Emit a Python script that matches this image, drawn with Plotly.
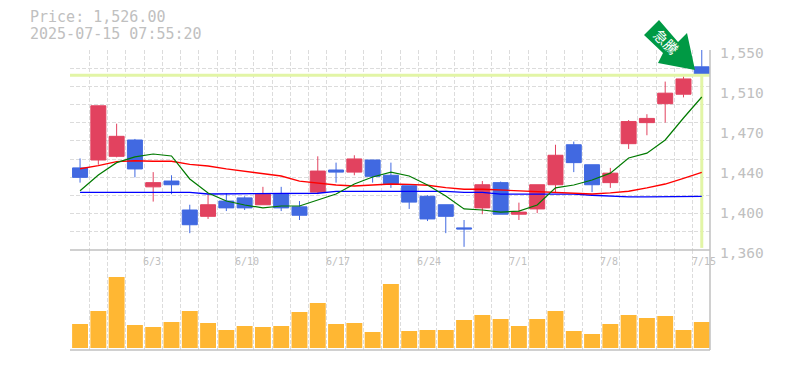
import plotly.graph_objects as go

dates = ["5/28","5/29","5/30","6/2","6/3","6/4","6/5","6/6","6/9","6/10","6/11","6/12","6/13","6/16","6/17","6/18","6/19","6/20","6/23","6/24","6/25","6/26","6/27","6/30","7/1","7/2","7/3","7/4","7/7","7/8","7/9","7/10","7/11","7/14","7/15"]
opens = [1438,1445.5,1449,1464.5,1420,1425.5,1398,1392,1406.5,1409.5,1403,1413,1401,1415,1436,1434,1445.5,1431,1421,1411,1403,1381,1400,1424,1394,1399,1422,1460,1441,1424,1461,1481,1499,1508,1534]
highs = [1447,1497,1480,1465.5,1434,1431,1403,1413,1414,1411,1420,1420,1406.5,1449,1443,1450,1445.5,1443,1421,1412,1403,1388.5,1425.5,1425,1405,1422,1460,1463,1441,1438,1483.5,1489,1520,1525,1550]
lows = [1424,1441,1448,1429,1406,1413,1376,1389.5,1397,1398,1403,1397,1388.5,1413,1424,1431,1424,1419,1399,1387.5,1376,1363,1394,1394,1388.5,1395,1415,1434,1415,1419,1456,1469,1481,1505,1515]
closes = [1429,1497,1468,1437,1424,1422,1384,1403,1400,1400,1413,1400,1393,1435,1434,1446.5,1430,1423,1405.5,1389.5,1392,1380,1422,1394,1396,1422,1450,1443,1422,1433,1482,1485,1509,1522.5,1526]
ma_short = [1416.3,1431.25,1443,1448.4,1451.2,1449.3,1427.5,1414.2,1406.5,1402.75,1400,1401.8,1401.8,1407.5,1413.2,1422.7,1429.35,1434,1430.3,1421.75,1411.3,1399,1398,1396,1397,1402.75,1419,1421.75,1426.5,1433,1447.4,1452,1464.5,1485.4,1505.35]
ma_mid = [1437.2,1440.1,1443.9,1444.8,1444.3,1444.3,1441.4,1439.8,1437,1434.8,1432.5,1430.3,1425.5,1423.65,1421.75,1420.8,1421.5,1422.7,1422.4,1421.5,1419.2,1417.7,1417.7,1417,1416.3,1416,1415.1,1414.2,1413.2,1414.2,1415.8,1419,1422.7,1428.1,1433.8]
ma_long = [1414.8,1414.8,1414.8,1414.8,1414.8,1414.8,1414.8,1413.2,1413.2,1413.2,1413.2,1413.9,1413.9,1413.9,1415.6,1415.6,1415.6,1415.6,1415.6,1415.6,1415.6,1414.8,1414.8,1413,1413,1413,1413,1413,1412,1411,1410.4,1410.4,1410.4,1410.4,1411]
volumes = [7200,11100,21300,6900,6300,7800,11100,7500,5400,6600,6300,6600,10800,13500,7200,7500,4800,19200,5100,5400,5400,8400,9900,8700,6600,8700,11100,5100,4200,7200,9900,9000,9600,5400,7800]
price_now = 1526
label_dates = ["6/3","6/10","6/17","6/24","7/1","7/8","7/15"]
price_ticks = [1550,1512,1474,1436,1398,1360]
price_labels = ["1,550","1,510","1,470","1,440","1,400","1,360"]
grid_y = [1360 + i * 190 / 11 for i in range(12)]
grid_x = [i - 0.5 for i in range(36)]

idx = list(range(len(dates)))
GRID = "#dcdcdc"
TXT = "#c0c0c0"
AX = "#c0c0c0"
FONT = "DejaVu Sans Mono"
W, H = 769, 354          # page body adds an 8 px margin
L, T, PW = 70, 50, 640   # plot box in window pixels


def px(x):
    return (x - L) / PW


def py(y):
    return 1 - (y - T) / 300


def add_candles(fig, keep, color):
    sel = [i for i in idx if keep(opens[i], closes[i])]
    lo = [min(opens[i], closes[i]) for i in sel]
    hi = [max(opens[i], closes[i]) for i in sel]
    fig.add_trace(go.Box(
        x=sel, q1=lo, q3=hi, median=[closes[i] for i in sel],
        lowerfence=[lows[i] for i in sel], upperfence=[highs[i] for i in sel],
        width=0.82, whiskerwidth=0, fillcolor=color, line=dict(color=color, width=1), hoverinfo="skip",
    ))


fig = go.Figure()
fig.add_trace(go.Scatter(x=[idx[-1], idx[-1]], y=[price_now, 1362], mode="lines", line=dict(color="#e2f5a6", width=3), hoverinfo="skip"))
fig.add_trace(go.Scatter(x=[idx[0] - 0.55, idx[-1] + 0.45], y=[price_now, price_now], mode="lines", line=dict(color="#e2f5a6", width=3), hoverinfo="skip"))
fig.add_trace(go.Scatter(x=idx, y=ma_long, mode="lines", line=dict(color="#0000ff", width=1.3)))
fig.add_trace(go.Scatter(x=idx, y=ma_mid, mode="lines", line=dict(color="#ff0000", width=1.3)))
fig.add_trace(go.Scatter(x=idx, y=ma_short, mode="lines", line=dict(color="#007a00", width=1.2)))
add_candles(fig, lambda o, c: c >= o, "#e2425f")
add_candles(fig, lambda o, c: c < o, "#4169e1")
fig.add_trace(go.Bar(x=idx, y=volumes, marker=dict(color="#ffb733", line=dict(width=0)), width=0.87, xaxis="x2", yaxis="y2"))

grid_minor = dict(tickvals=grid_x, showgrid=True, gridcolor=GRID, griddash="4px,2px", gridwidth=1, ticks="")
fig.update_layout(
    width=W, height=H, autosize=False, showlegend=False, paper_bgcolor="white", plot_bgcolor="white",
    margin=dict(l=L - 8, r=W - (L - 8) - PW, t=T - 8, b=H - (T - 8) - 300), boxmode="overlay",
    xaxis=dict(domain=[0, 1], range=[-0.55, 34.45], automargin=False, showgrid=False, minor=grid_minor, showticklabels=False, ticks="", anchor="y", zeroline=False, showline=False),
    yaxis=dict(domain=[1 / 3, 1], range=[1360, 1550], automargin=False, side="right", anchor="x", showgrid=False, zeroline=False,
               tickvals=price_ticks, ticktext=price_labels, ticks="", ticklabelstandoff=9, ticklabelshift=3,
               tickfont=dict(family=FONT, size=14.5, color=TXT),
               minor=dict(tickvals=grid_y, showgrid=True, gridcolor=GRID, griddash="4px,2px", gridwidth=1, ticks="")),
    xaxis2=dict(domain=[0, 1], range=[-0.55, 34.45], automargin=False, showgrid=False, minor=grid_minor, showticklabels=False, ticks="", anchor="y2", zeroline=False),
    yaxis2=dict(domain=[0, 1 / 3], range=[-600, 29400], automargin=False, showticklabels=False, showgrid=False, ticks="", zeroline=False, anchor="x2"),
    shapes=[
        dict(type="line", xref="paper", yref="paper", x0=0, x1=1, y0=py(250), y1=py(250), line=dict(color=AX, width=1.5), layer="above"),
        dict(type="line", xref="paper", yref="paper", x0=0, x1=1, y0=py(350), y1=py(350), line=dict(color=AX, width=1.5), layer="above"),
        dict(type="line", xref="paper", yref="paper", x0=1, x1=1, y0=py(50), y1=py(350), line=dict(color=AX, width=1.5), layer="above"),
        dict(type="path", xref="paper", yref="paper", fillcolor="#009944", line=dict(width=0), layer="above",
             path="M {} {} L {} {} L {} {} L {} {} L {} {} L {} {} L {} {} Z".format(
                 px(659), py(20), px(644), py(35), px(663), py(53), px(658), py(63),
                 px(695), py(70), px(687), py(33), px(678), py(42))),
        dict(type="rect", xref="paper", yref="paper", x0=px(655), x1=px(675), y0=py(33), y1=py(53),
             fillcolor="rgba(0,0,0,0)", line=dict(width=0), layer="above",
             label=dict(text="急騰", textangle=45, textposition="middle center",
                        font=dict(family="Noto Sans CJK JP", size=14, color="white"))),
    ],
)

anns = [dict(text=t, x=0, y=py(yy), xshift=-42, xref="paper", yref="paper", xanchor="left", yanchor="middle", showarrow=False,
             font=dict(family=FONT, size=15, color=TXT))
        for t, yy in (("Price: 1,526.00", 16.5), ("2025-07-15 07:55:20", 34))]
for d in label_dates:
    anns.append(dict(text=d, x=dates.index(d), xref="x", y=py(261), yref="paper", xanchor="left", yanchor="middle",
                     xshift=-12, showarrow=False, font=dict(family=FONT, size=10, color=TXT)))
fig.update_layout(annotations=anns)
fig.write_html("out.html")
